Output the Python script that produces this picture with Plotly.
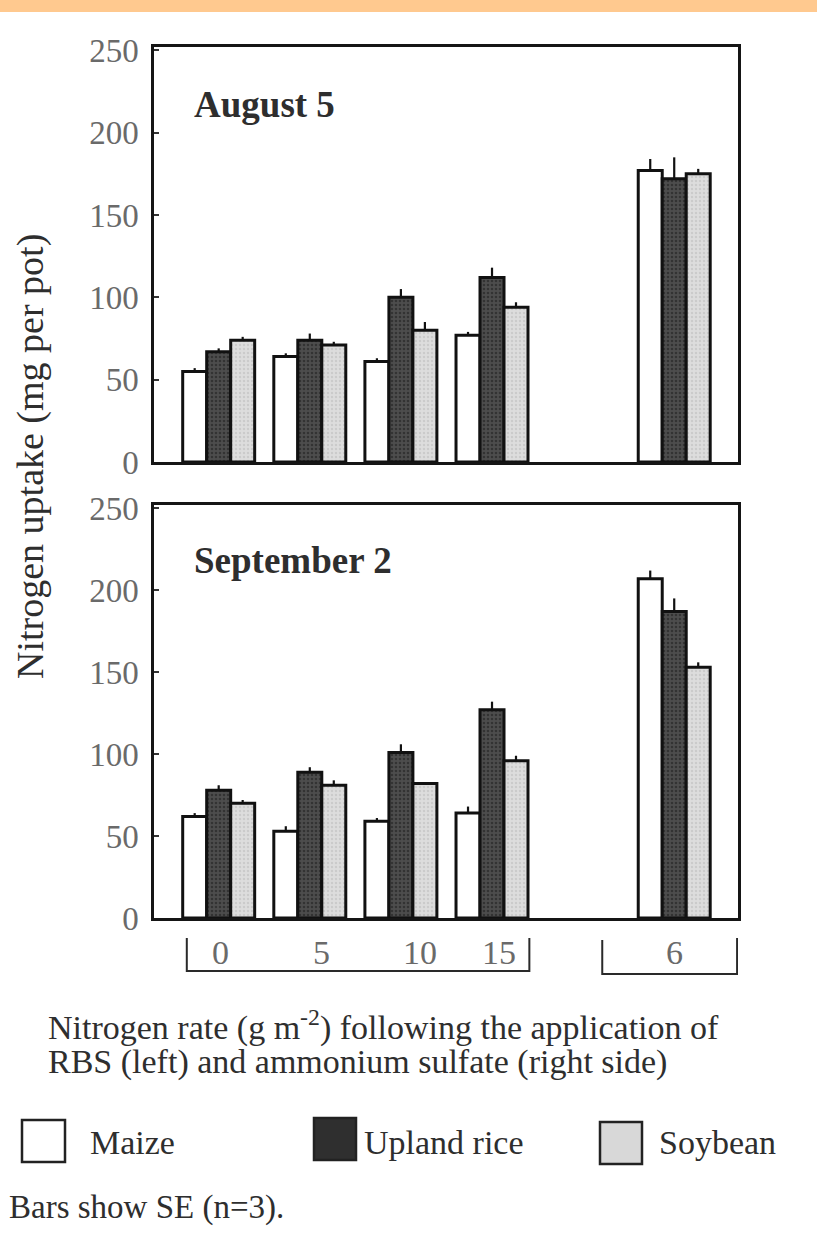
import plotly.graph_objects as go

# ---------------- data ----------------
positions = [0, 1, 2, 3, 5]           # group slots (slot 4 left empty)
rate_labels = ["0", "5", "10", "15", "6"]
series = ["Maize", "Upland rice", "Soybean"]

aug_maize = [55, 64, 61, 77, 177]
aug_rice = [67, 74, 100, 112, 172]
aug_soy = [74, 71, 80, 94, 175]
aug_maize_se = [2, 2, 2, 2, 7]
aug_rice_se = [2, 4, 5, 6, 13]
aug_soy_se = [2, 2, 5, 3, 3]

sep_maize = [62, 53, 59, 64, 207]
sep_rice = [78, 89, 101, 127, 187]
sep_soy = [70, 81, 82, 96, 153]
sep_maize_se = [2, 3, 2, 4, 5]
sep_rice_se = [3, 3, 5, 5, 8]
sep_soy_se = [2, 3, 1, 3, 3]

y_ticks = [0, 50, 100, 150, 200, 250]

# ---------------- layout helpers ----------------
W, H = 817, 1249
def fx(px):
    return px / W
def fy(py):
    return 1 - py / H

SERIF = "Liberation Serif"
TXT = "#2e2e2e"
TICK = "#6a6a6a"

styles = {
    "Maize": dict(color="#ffffff", pattern=None),
    "Upland rice": dict(color="#454545",
                        pattern=dict(shape=".", fgcolor="#1a1a1a", bgcolor="#4d4d4d", size=4, solidity=0.35)),
    "Soybean": dict(color="#d8d8d8",
                    pattern=dict(shape=".", fgcolor="#b8b8b8", bgcolor="#dddddd", size=4, solidity=0.3)),
}

fig = go.Figure()

panels = [
    ("x", "y", [aug_maize, aug_rice, aug_soy], [aug_maize_se, aug_rice_se, aug_soy_se]),
    ("x2", "y2", [sep_maize, sep_rice, sep_soy], [sep_maize_se, sep_rice_se, sep_soy_se]),
]
for xa, ya, vals, ses in panels:
    for name, v, se in zip(series, vals, ses):
        st = styles[name]
        marker = dict(color=st["color"], line=dict(color="#111111", width=3))
        if st["pattern"]:
            marker["pattern"] = st["pattern"]
        fig.add_trace(go.Bar(
            x=positions, y=v, name=name, xaxis=xa, yaxis=ya,
            marker=marker, showlegend=False, offsetgroup=name,
            error_y=dict(type="data", symmetric=False, array=se,
                         arrayminus=[0] * len(se), width=0, thickness=2.2, color="#111111"),
        ))

axis_common = dict(showline=True, linecolor="#151515", linewidth=2.5, mirror=True,
                   showgrid=False, zeroline=False, automargin=False)
xrange = [-0.71, 5.70]
xdom = [fx(154), fx(738)]

fig.update_layout(
    width=W, height=H,
    margin=dict(l=0, r=0, t=0, b=0, autoexpand=False),
    paper_bgcolor="white", plot_bgcolor="white",
    barmode="group", bargap=0.21, bargroupgap=0,
    font=dict(family=SERIF, color=TXT),
    xaxis=dict(domain=xdom, range=xrange, showticklabels=False, ticks="",
               anchor="y", **axis_common),
    xaxis2=dict(domain=xdom, range=xrange, showticklabels=False, ticks="",
                anchor="y2", **axis_common),
    yaxis=dict(domain=[fy(462), fy(47)], range=[0, 252], tickvals=y_ticks,
               ticks="inside", ticklen=5, tickcolor="#333", tickwidth=1.5,
               tickfont=dict(family=SERIF, size=33, color=TICK), ticklabelstandoff=6,
               anchor="x", **axis_common),
    yaxis2=dict(domain=[fy(918), fy(505)], range=[0, 252], tickvals=y_ticks,
                ticks="inside", ticklen=5, tickcolor="#333", tickwidth=1.5,
                tickfont=dict(family=SERIF, size=33, color=TICK), ticklabelstandoff=6,
                anchor="x2", **axis_common),
)

ann = []
# y-axis title
ann.append(dict(text="Nitrogen uptake (mg per pot)", x=fx(30), y=fy(457), xref="paper", yref="paper",
                textangle=-90, showarrow=False, font=dict(size=38, color=TXT, family=SERIF),
                xanchor="center", yanchor="middle"))
# panel titles
ann.append(dict(text="<b>August 5</b>", x=fx(192), y=fy(104), xref="paper", yref="paper",
                showarrow=False, xanchor="left", yanchor="middle",
                font=dict(size=37, color=TXT, family=SERIF)))
ann.append(dict(text="<b>September 2</b>", x=fx(192), y=fy(560), xref="paper", yref="paper",
                showarrow=False, xanchor="left", yanchor="middle",
                font=dict(size=37, color=TXT, family=SERIF)))
# rate labels under bottom panel
label_shift = [0.02, 1.13, 2.21, 3.08, 5.0]
for lab, lx in zip(rate_labels, label_shift):
    ann.append(dict(text=lab, x=lx, y=fy(952), xref="x2", yref="paper", showarrow=False,
                    xanchor="center", yanchor="middle",
                    font=dict(size=34, color=TICK, family=SERIF)))
# x description
ann.append(dict(text="Nitrogen rate (g m<sup>-2</sup>) following the application of",
                x=fx(46), y=fy(1025), xref="paper", yref="paper", showarrow=False,
                xanchor="left", yanchor="middle", font=dict(size=34, color=TXT, family=SERIF)))
ann.append(dict(text="RBS (left) and ammonium sulfate (right side)",
                x=fx(46), y=fy(1062), xref="paper", yref="paper", showarrow=False,
                xanchor="left", yanchor="middle", font=dict(size=34, color=TXT, family=SERIF)))
# legend labels
leg_label_x = [88, 362, 657]
for name, lx in zip(series, leg_label_x):
    ann.append(dict(text=name, x=fx(lx), y=fy(1142), xref="paper", yref="paper", showarrow=False,
                    xanchor="left", yanchor="middle", font=dict(size=34, color=TXT, family=SERIF)))
ann.append(dict(text="Bars show SE (n=3).", x=fx(7), y=fy(1207), xref="paper", yref="paper",
                showarrow=False, xanchor="left", yanchor="middle",
                font=dict(size=33, color=TXT, family=SERIF)))
fig.update_layout(annotations=ann)

shapes = []
# orange band at top
shapes.append(dict(type="rect", xref="paper", yref="paper", x0=0, x1=1, y0=fy(12), y1=1,
                   fillcolor="#ffc98f", line=dict(width=0), layer="below"))
# brackets
def bracket(x0, x1, ytop_l, ytop_r, ybot):
    return dict(type="path", xref="x2", yref="paper",
                path=f"M {x0},{fy(ytop_l)} L {x0},{fy(ybot)} L {x1},{fy(ybot)} L {x1},{fy(ytop_r)}",
                line=dict(color="#2a2a2a", width=2))
shapes.append(bracket(-0.35, 3.41, 938, 938, 971))
shapes.append(bracket(4.21, 5.69, 940, 938, 974))
# legend boxes
leg_boxes = [(22, 65, 1120, 1162), (314, 356, 1118, 1160), (600, 642, 1122, 1164)]
for name, (x0, x1, y0, y1) in zip(series, leg_boxes):
    st = styles[name]
    shapes.append(dict(type="rect", xref="paper", yref="paper", x0=fx(x0), x1=fx(x1),
                       y0=fy(y1), y1=fy(y0), fillcolor=st["color"] if name != "Upland rice" else "#2f2f2f",
                       line=dict(color="#222222", width=2.5)))
fig.update_layout(shapes=shapes)

post = (
    "document.documentElement.style.margin='0';"
    "document.documentElement.style.overflow='hidden';"
    "document.body.style.margin='0';"
    "document.body.style.overflow='hidden';"
)
fig.write_html("out.html", config={"displayModeBar": False}, post_script=post)
